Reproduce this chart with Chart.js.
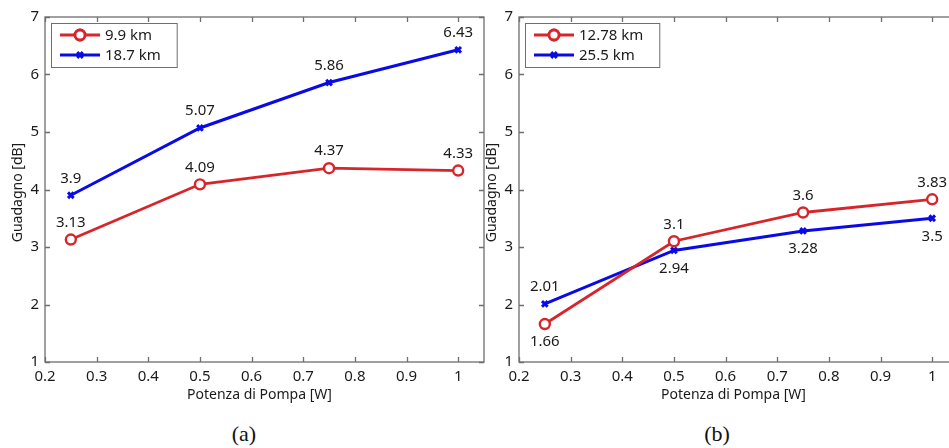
<!DOCTYPE html>
<html>
<head>
<meta charset="utf-8">
<script src="https://cdn.jsdelivr.net/npm/chart.js@4.4.1/dist/chart.umd.min.js"></script>
<style>
  html, body { margin: 0; padding: 0; background: #fff; overflow: hidden; }
  body { width: 949px; height: 448px; position: relative; }
  .pane { position: absolute; top: 0; width: 500px; height: 410px; }
  .caption { position: absolute; top: 421px; width: 80px; margin-left: -40px; text-align: center;
             font: 22px 'Liberation Serif', serif; color: #111; }
</style>
</head>
<body>
<div class="pane" style="left:0"><canvas id="chartA"></canvas></div>
<div class="pane" style="left:474px"><canvas id="chartB"></canvas></div>
<div class="caption" style="left:244px">(a)</div>
<div class="caption" style="left:717px">(b)</div>

<script>
// Potenza di pompa [W]
const potenza = [0.25, 0.5, 0.75, 1];

// Guadagno [dB] - figura (a)
const gain9_9 = [3.13, 4.09, 4.37, 4.33];
const gain18_7 = [3.9, 5.07, 5.86, 6.43];

// Guadagno [dB] - figura (b)
const gain12_78 = [1.66, 3.1, 3.6, 3.83];
const gain25_5 = [2.01, 2.94, 3.28, 3.5];

const xTicks = [0.2, 0.3, 0.4, 0.5, 0.6, 0.7, 0.8, 0.9, 1];
const xTickLabels = ['0.2', '0.3', '0.4', '0.5', '0.6', '0.7', '0.8', '0.9', '1'];
const yTicks = [1, 2, 3, 4, 5, 6, 7];

const RED = '#d7262b';
const BLUE = '#0a0ae6';
const AXIS = '#6e6e6e';
const FONT = '"Noto Sans", "Open Sans", sans-serif';

// box, inward ticks, axis titles, legend and value labels
const decor = {
  id: 'decor',
  afterDatasetsDraw(chart) {
    const { ctx, chartArea: a, scales: { x, y } } = chart;
    ctx.save();
    ctx.strokeStyle = AXIS;
    ctx.lineWidth = 1.3;
    ctx.strokeRect(a.left, a.top, a.right - a.left, a.bottom - a.top);
    ctx.beginPath();
    xTicks.forEach(v => {
      const px = Math.round(x.getPixelForValue(v)) + 0.5;
      ctx.moveTo(px, a.bottom); ctx.lineTo(px, a.bottom - 5);
      ctx.moveTo(px, a.top); ctx.lineTo(px, a.top + 5);
    });
    yTicks.forEach(v => {
      const py = Math.round(y.getPixelForValue(v)) + 0.5;
      ctx.moveTo(a.left, py); ctx.lineTo(a.left + 5, py);
      ctx.moveTo(a.right, py); ctx.lineTo(a.right - 5, py);
    });
    ctx.stroke();

    // axis titles
    ctx.fillStyle = '#1a1a1a';
    ctx.font = '14px ' + FONT;
    ctx.textAlign = 'center';
    ctx.textBaseline = 'middle';
    ctx.fillText('Potenza di Pompa [W]', (a.left + a.right) / 2 - 5, a.bottom + 33);
    ctx.save();
    ctx.translate(a.left - 27, (a.top + a.bottom) / 2 + 3);
    ctx.rotate(-Math.PI / 2);
    ctx.fillText('Guadagno [dB]', 0, 0);
    ctx.restore();

    // value labels
    ctx.font = '15px ' + FONT;
    chart.data.datasets.forEach((ds, i) => {
      chart.getDatasetMeta(i).data.forEach((pt, j) => {
        const dy = ds.labelPos[j] === 'below' ? 18 : -17;
        ctx.fillText(String(ds.data[j].y), pt.x, pt.y + dy);
      });
    });

    // legend
    ctx.font = '15px ' + FONT;
    const widest = Math.max(...chart.data.datasets.map(ds => ctx.measureText(ds.label).width));
    const lx = a.left + 6, ly = a.top + 6;
    ctx.fillStyle = '#fff';
    ctx.fillRect(lx, ly, 60 + widest + 10, 44);
    ctx.strokeStyle = AXIS;
    ctx.lineWidth = 1;
    ctx.strokeRect(lx + 0.5, ly + 0.5, 60 + widest + 10, 44);
    chart.data.datasets.forEach((ds, i) => {
      const ry = ly + 12 + i * 20;
      ctx.strokeStyle = ds.borderColor;
      ctx.lineWidth = ds.borderWidth;
      ctx.beginPath();
      ctx.moveTo(lx + 9, ry); ctx.lineTo(lx + 49, ry);
      ctx.stroke();
      Chart.helpers.drawPoint(ctx, {
        pointStyle: ds.pointStyle, radius: ds.pointRadius, borderWidth: ds.pointBorderWidth
      }, lx + 29, ry);
      if (ds.pointStyle === 'circle') {
        ctx.fillStyle = '#fff';
        ctx.beginPath(); ctx.arc(lx + 29, ry, ds.pointRadius, 0, Math.PI * 2); ctx.fill(); ctx.stroke();
      }
      ctx.fillStyle = '#1a1a1a';
      ctx.textAlign = 'left';
      ctx.fillText(ds.label, lx + 54, ry + 1);
    });
    ctx.restore();
  }
};

function serie(label, values, color, kind, labelPos) {
  const circle = kind === 'circle';
  return {
    label: label,
    data: values.map((v, i) => ({ x: potenza[i], y: v })),
    labelPos: labelPos,
    borderColor: color,
    borderWidth: circle ? 2.8 : 3,
    pointStyle: circle ? 'circle' : 'crossRot',
    pointRadius: circle ? 5 : 4,
    pointBorderWidth: circle ? 2.4 : 3,
    pointBackgroundColor: '#fff',
    pointBorderColor: color,
    tension: 0
  };
}

function makeChart(id, datasets) {
  new Chart(document.getElementById(id), {
    type: 'line',
    data: { datasets: datasets },
    options: {
      responsive: true,
      maintainAspectRatio: false,
      animation: false,
      layout: { padding: { top: 17, right: 16, left: 0, bottom: 0 } },
      plugins: { legend: { display: false }, tooltip: { enabled: false } },
      scales: {
        x: {
          type: 'linear', min: 0.2, max: 1.05,
          afterBuildTicks: s => { s.ticks = xTicks.map(v => ({ value: v })); },
          afterFit: s => { s.height = 48; },
          grid: { display: false, drawTicks: false },
          border: { display: false },
          ticks: {
            padding: 6, maxRotation: 0, autoSkip: false,
            color: '#1a1a1a', font: { family: FONT, size: 15 },
            callback: (v, i) => xTickLabels[i]
          }
        },
        y: {
          type: 'linear', min: 1, max: 7,
          afterBuildTicks: s => { s.ticks = yTicks.map(v => ({ value: v })); },
          afterFit: s => { s.width = 45; },
          grid: { display: false, drawTicks: false },
          border: { display: false },
          ticks: {
            padding: 6, color: '#1a1a1a', font: { family: FONT, size: 15 },
            callback: v => String(v)
          }
        }
      }
    },
    plugins: [decor]
  });
}

makeChart('chartA', [
  serie('9.9 km', gain9_9, RED, 'circle', ['above', 'above', 'above', 'above']),
  serie('18.7 km', gain18_7, BLUE, 'cross', ['above', 'above', 'above', 'above'])
]);

makeChart('chartB', [
  serie('12.78 km', gain12_78, RED, 'circle', ['below', 'above', 'above', 'above']),
  serie('25.5 km', gain25_5, BLUE, 'cross', ['above', 'below', 'below', 'below'])
]);
</script>
</body>
</html>
